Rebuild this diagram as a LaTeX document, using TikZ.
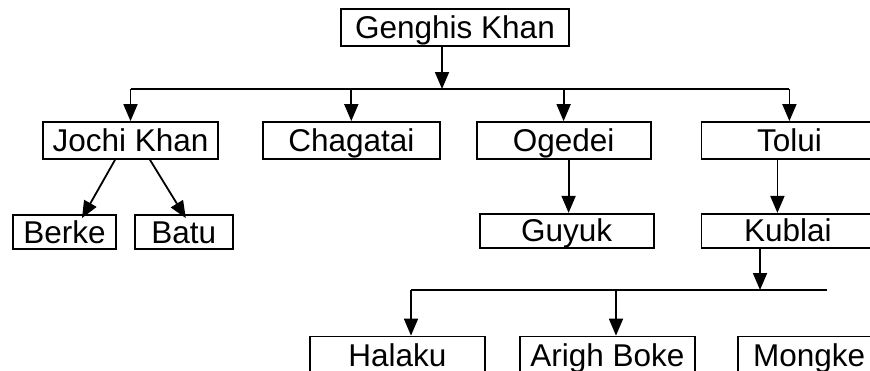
\documentclass[tikz,border=0pt]{standalone}
\usepackage{fontspec}
\setmainfont{Liberation Sans}
\usepackage{tikz}
\usetikzlibrary{arrows, arrows.meta, positioning}

\begin{document}
\begin{tikzpicture}[x=1pt, y=-1pt]
\tikzstyle{person} = [rectangle, draw, line width=1.8pt, inner sep=0pt, minimum height=37pt, text height=22pt, text depth=0pt, font=\fontsize{31.5}{36}\selectfont]
\tikzstyle{line} = [draw, line width=1.8pt, -{Triangle[length=17pt,width=14pt]}]
\tikzstyle{bus} = [draw, line width=1.8pt]

\useasboundingbox (0,0) rectangle (870,370);
\clip (0,0) rectangle (870,370);

\node [person, minimum width=228pt] (genghis) at (455,27.5) {Genghis Khan};

\node [person, minimum width=175pt] (jochi) at (130.5,140.5) {Jochi Khan};
\node [person, minimum width=177pt, right=43pt of jochi] (chagatai) {Chagatai};
\node [person, minimum width=174pt, right=35pt of chagatai] (ogedei) {Ogedei};
\node [person, minimum width=176pt, right=49pt of ogedei] (tolui) {Tolui};

\node [person, minimum width=103pt, minimum height=34pt] (berke) at (64.5,232) {Berke};
\node [person, minimum width=98pt, minimum height=34pt, right=17pt of berke] (batu) {Batu};
\node [person, minimum width=174pt, minimum height=34pt, below=53pt of ogedei, xshift=3pt] (guyuk) {Guyuk};
\node [person, minimum width=173pt, minimum height=34pt, below=53pt of tolui, xshift=-1.5pt] (kublai) {Kublai};

\node [person, minimum width=175pt] (halaku) at (397.5,355) {Halaku};
\node [person, minimum width=175pt, right=33pt of halaku] (arigh) {Arigh Boke};
\node [person, minimum width=143pt, right=41pt of arigh] (mongke) {Mongke};

\coordinate (gdrop) at (442,89);
\coordinate (kdrop) at (760,290);
\coordinate (busA) at (411,290);
\coordinate (busB) at (616,290);
\coordinate (busEnd) at (827,290);

\draw [line] (genghis.south -| gdrop) -- (gdrop);
\draw [bus] (gdrop -| jochi) -- (gdrop -| tolui);
\draw [line] (gdrop -| jochi) -- (jochi);
\draw [line] (gdrop -| chagatai) -- (chagatai);
\draw [line] (gdrop -| ogedei) -- (ogedei);
\draw [line] (gdrop -| tolui) -- (tolui);

\draw [line] ([xshift=-15.5pt]jochi.south) -- ([xshift=17.5pt,yshift=-4pt]berke.north);
\draw [line] ([xshift=19.5pt]jochi.south) -- ([xshift=2pt,yshift=-4pt]batu.north);
\draw [line] ([xshift=5pt]ogedei.south) -- ([xshift=2pt]guyuk.north);
\draw [line] ([xshift=-12pt]tolui.south) -- ([xshift=-10.5pt]kublai.north);

\draw [line] (kublai.south -| kdrop) -- (kdrop);
\draw [bus] (busA) -- (busEnd);
\draw [line] (busA) -- (halaku.north -| busA);
\draw [line] (busB) -- (arigh.north -| busB);

\end{tikzpicture}
\end{document}
